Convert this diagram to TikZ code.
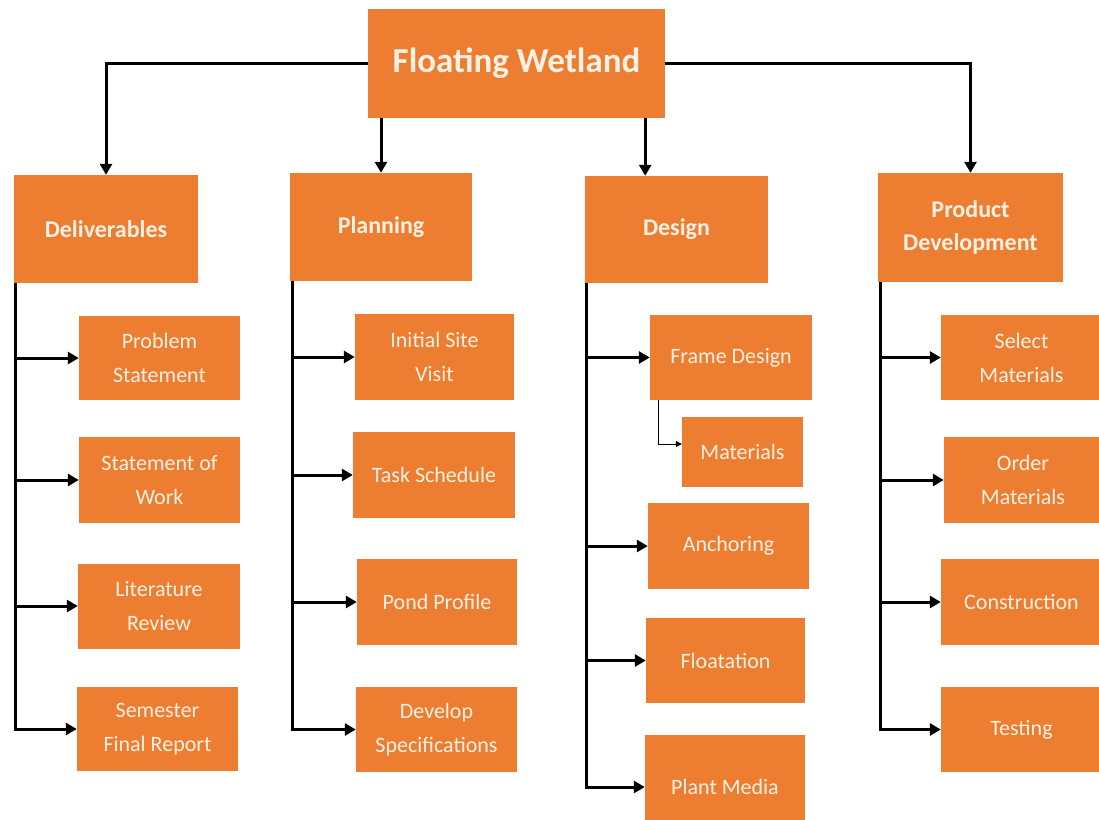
\documentclass[tikz,border=0pt]{standalone}
\usepackage{fontspec}
\setmainfont{Carlito}
\usetikzlibrary{arrows.meta,calc}
\definecolor{boxorange}{HTML}{ED7D31}
\definecolor{boxtext}{HTML}{FDF1E3}
\tikzset{
  box/.style={fill=boxorange, draw=none, text=boxtext, align=center, inner sep=0pt},
  topbox/.style={box, font=\fontsize{35}{40}\selectfont\bfseries},
  headbox/.style={box, font=\fontsize{24}{33}\selectfont\bfseries},
  leafbox/.style={box, font=\fontsize{22}{34}\selectfont},
  arr/.style={line width=3pt, -{Triangle[length=11pt,width=12pt]}},
  thinarr/.style={line width=1pt, -{Triangle[length=6pt,width=6pt]}}
}
\begin{document}
\begin{tikzpicture}[x=1pt,y=-1pt]
\useasboundingbox[fill=white] (0,0) rectangle (1099,819);
% top
\node[topbox, minimum width=297, minimum height=109] (fw) at (516.5,63.5) {Floating Wetland};
% headers
\node[headbox, minimum width=184, minimum height=108] (deliv) at (106,229) {Deliverables};
\node[headbox, minimum width=182, minimum height=108] (plan) at (381,227) {Planning};
\node[headbox, minimum width=183, minimum height=107] (design) at (676.5,229.5) {Design};
\node[headbox, minimum width=185, minimum height=109] (pd) at (970.5,227.5) {Product\\Development};
% deliverables children
\node[leafbox, minimum width=161, minimum height=84] (ps) at (159.5,358) {Problem\\Statement};
\node[leafbox, minimum width=161, minimum height=86] (sow) at (159.5,480) {Statement of\\Work};
\node[leafbox, minimum width=162, minimum height=85] (lr) at (159,606) {Literature\\Review};
\node[leafbox, minimum width=161, minimum height=84] (sfr) at (157.5,729) {Semester\\Final Report};
% planning children
\node[leafbox, minimum width=159, minimum height=86] (isv) at (434.5,357) {Initial Site\\Visit};
\node[leafbox, minimum width=162, minimum height=86] (ts) at (434,475) {Task Schedule};
\node[leafbox, minimum width=160, minimum height=86] (pp) at (437,602) {Pond Profile};
\node[leafbox, minimum width=161, minimum height=85] (ds) at (436.5,729.5) {Develop\\Specifications};
% design children
\node[leafbox, minimum width=162, minimum height=85] (fd) at (731,357.5) {Frame Design};
\node[leafbox, minimum width=121, minimum height=70] (mat) at (742.5,452) {Materials};
\node[leafbox, minimum width=161, minimum height=86] (anc) at (728.5,546) {Anchoring};
\node[leafbox, minimum width=159, minimum height=85] (flo) at (725.5,660.5) {Floatation};
\node[leafbox, minimum width=160, minimum height=104] (pm) at (725,787) {Plant Media};
% product development children
\node[leafbox, minimum width=161, minimum height=85] (sm) at (1021.5,357.5) {Select\\Materials};
\node[leafbox, minimum width=158, minimum height=86] (om) at (1023,480) {Order\\Materials};
\node[leafbox, minimum width=161, minimum height=86] (con) at (1021.5,602) {Construction};
\node[leafbox, minimum width=161, minimum height=85] (tst) at (1021.5,729.5) {Testing};
% top connectors
\draw[arr] (fw.west) -| (deliv.north);
\draw[arr] (fw.east) -| (pd.north);
\draw[arr] (plan.north |- fw.south) -- (plan.north);
\draw[arr] ([xshift=-20pt]fw.south east) -- ([xshift=-20pt]fw.south east |- design.north);
% column spines
\foreach \c in {ps,sow,lr,sfr}{\draw[arr] ([xshift=2pt]deliv.south west) |- (\c.west);}
\foreach \c in {isv,ts,pp,ds}{\draw[arr] ([xshift=3pt]plan.south west) |- (\c.west);}
\foreach \c in {fd,anc,flo,pm}{\draw[arr] ([xshift=2pt]design.south west) |- (\c.west);}
\foreach \c in {sm,om,con,tst}{\draw[arr] ([xshift=3pt]pd.south west) |- (\c.west);}
\draw[thinarr] ([xshift=9pt]fd.south west) |- ([yshift=8pt]mat.west);
\end{tikzpicture}
\end{document}
